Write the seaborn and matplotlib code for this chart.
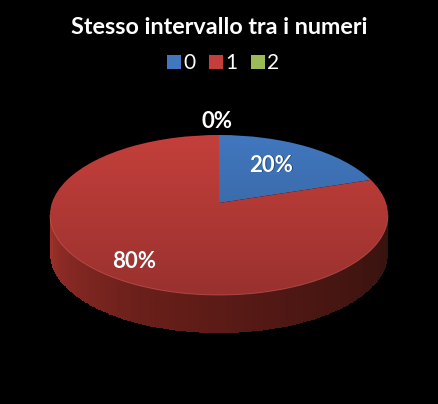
import numpy as np
import matplotlib
matplotlib.use("Agg")
import matplotlib.pyplot as plt
from matplotlib.colors import LinearSegmentedColormap
from matplotlib.patches import Patch, Ellipse
from matplotlib.transforms import Transform
import seaborn as sns

categories = ["0", "1", "2"]
values = [20, 80, 0]
title = "Stesso intervallo tra i numeri"
colors = ["#4177BE", "#C43F3B", "#9BBB59"]

W, H = 438, 404
CX, CY = 219, 203      # pie vertex in pixels
RX, UP, DOWN, DEPTH = 169, 68, 92, 38

sns.set_theme(style="dark", rc={"figure.facecolor": "black", "axes.facecolor": "black",
                                "savefig.facecolor": "black"})
plt.rcParams["font.family"] = ["Lato", "DejaVu Sans"]


class Tilt(Transform):
    """Perspective view of the unit disc."""
    input_dims = output_dims = 2

    def __init__(self, rx, up, down):
        super().__init__()
        self.d = (down - up) / (down + up)
        self.b = up * (1 + self.d)
        self.s = rx * np.sqrt(1 - self.d ** 2)

    def transform_non_affine(self, v):
        v = np.asarray(v, float)
        w = 1 + self.d * v[:, 1]
        return np.column_stack((self.s * v[:, 0] / w, self.b * v[:, 1] / w))


fig = plt.figure(figsize=(W / 100, H / 100), dpi=100)
ax = fig.add_axes([0, 0, 1, 1])

wedges, _ = ax.pie(values, colors=colors[:3], startangle=90, counterclock=False)
tilt = Tilt(RX, UP, DOWN)
for w in wedges:
    w.set_transform(tilt + ax.transData)
    w.set_linewidth(0)
    w.set_zorder(3)

ax.set_aspect("auto")
ax.set_xlim(-CX, W - CX)
ax.set_ylim(CY - H, CY)
ax.axis("off")
fig.patch.set_facecolor("black")

# extruded side
ey, ery = (UP - DOWN) / 2, (UP + DOWN) / 2
t = np.linspace(np.pi, 2 * np.pi, 241)
ex, etop = RX * np.cos(t), ey + ery * np.sin(t)
X = np.vstack([ex, ex])
Y = np.vstack([etop + 1, etop - DEPTH])
side = LinearSegmentedColormap.from_list(
    "side", [(0, "#a3322c"), (0.12, "#8a2a25"), (0.35, "#6a1f1a"),
             (0.6, "#521814"), (0.85, "#3e1410"), (1, "#351210")])
ax.pcolormesh(X, Y, np.linspace(0, 1, 240)[None, :], cmap=side, shading="flat",
              zorder=2, antialiased=False)
ax.plot(ex, etop, color="#d0605a", lw=0.7, alpha=0.55, zorder=4)

# soft shading of the top face
shade = np.zeros((200, 2, 4))
shade[..., 3] = np.linspace(0.0, 0.22, 200)[:, None]
im = ax.imshow(shade, extent=(-RX, RX, ey - ery, UP), aspect="auto", origin="upper",
               zorder=3.5, interpolation="bilinear")
clip = Ellipse((0, ey), 2 * RX, 2 * ery, transform=ax.transData)
im.set_clip_path(clip)
ax.set_xlim(-CX, W - CX)
ax.set_ylim(CY - H, CY)

# percentage labels
label_px = [(271, 165), (134, 261), (217, 121)]
total = sum(values)
for v, (px, py) in zip(values, label_px):
    txt = f"{round(100 * v / total)}%"
    ax.text(px - CX + 0.6, CY - py - 0.6, txt, color="#00000060", fontsize=16,
            fontweight="bold", ha="center", va="center", zorder=5)
    ax.text(px - CX, CY - py, txt, color="white", fontsize=16,
            fontweight="bold", ha="center", va="center", zorder=6)

fig.text(219 / W, 1 - 27 / H, title, color="white", fontsize=16.8, fontweight="bold",
         ha="center", va="center")

handles = [Patch(facecolor=c, edgecolor="none", label=l) for c, l in zip(colors, categories)]
leg = ax.legend(handles=handles, ncol=3, loc="center", bbox_to_anchor=(223 / W, 1 - 63 / H),
                frameon=False, fontsize=15, handlelength=0.68, handleheight=0.68,
                handletextpad=0.1, columnspacing=0.65, labelcolor="white",
                borderpad=0, borderaxespad=0)

fig.savefig("out.png", dpi=100, facecolor="black")
